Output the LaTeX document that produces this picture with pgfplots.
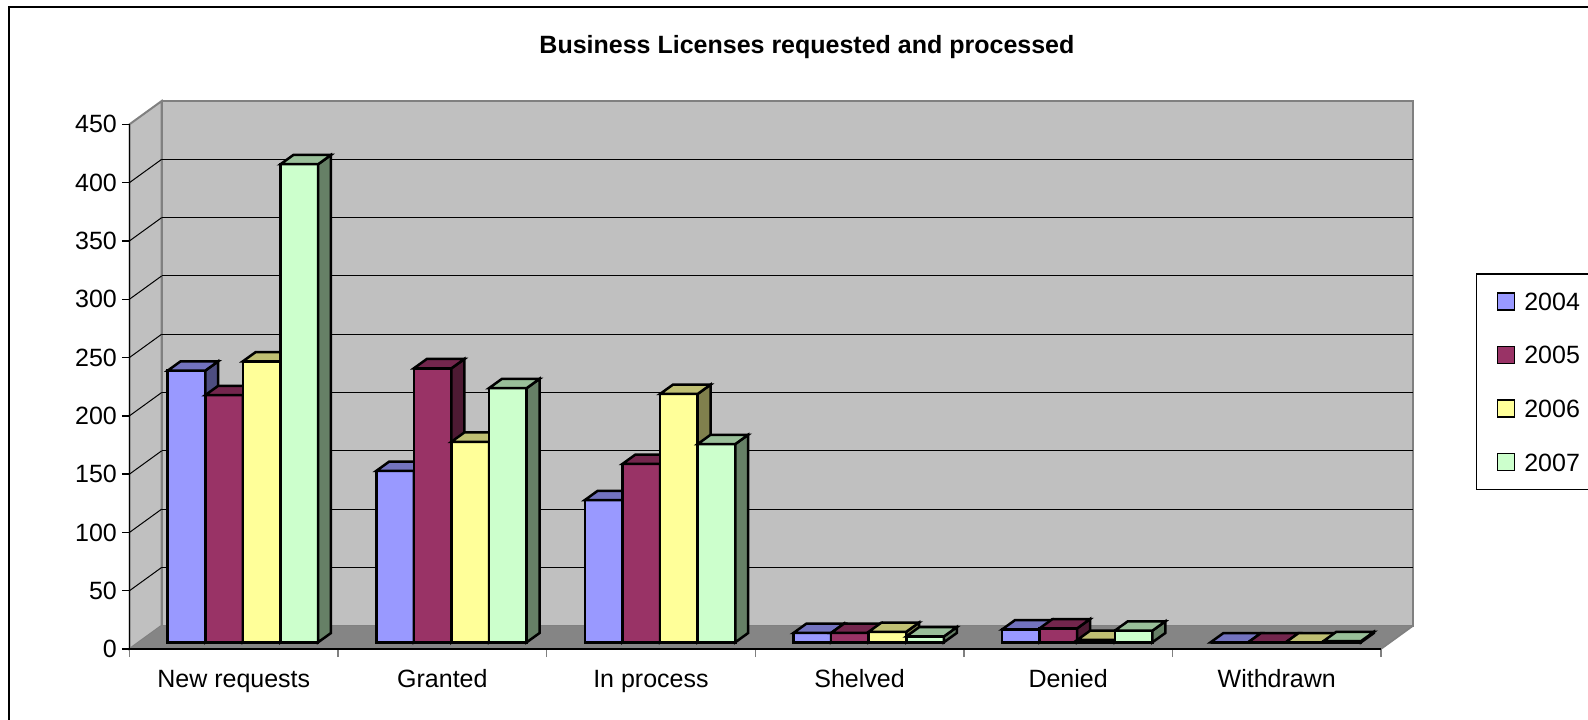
\documentclass[border=0pt]{standalone}
\usepackage{fontspec}
\setmainfont{Liberation Sans}
\usepackage{pgfplots}
\usepackage{pgfplotstable}
\pgfplotsset{compat=1.18}

\definecolor{c04}{HTML}{9999FF}\definecolor{c04t}{HTML}{7373BF}\definecolor{c04s}{HTML}{4D4D80}
\definecolor{c05}{HTML}{993366}\definecolor{c05t}{HTML}{73264D}\definecolor{c05s}{HTML}{4D1A33}
\definecolor{c06}{HTML}{FFFF99}\definecolor{c06t}{HTML}{BFBF73}\definecolor{c06s}{HTML}{80804D}
\definecolor{c07}{HTML}{CCFFCC}\definecolor{c07t}{HTML}{99BF99}\definecolor{c07s}{HTML}{668066}
\definecolor{wall}{HTML}{C0C0C0}
\definecolor{floorc}{HTML}{858585}
\definecolor{edgec}{HTML}{808080}

\pgfdeclareplotmark{void}{}

\newdimen\bH
% one 3D bar, drawn around the data point (i, value); #1 = centre shift in pt
\newcommand\barbox[4]{%
  \bH=\barval pt\relax
  \bH=0.583\bH
  \pgfscope
  \pgftransformshift{\pgfqpoint{#1pt}{3.35pt}}%
  \pgfsetlinewidth{1.25pt}\pgfsetmiterjoin\pgfsetstrokecolor{black}%
  \pgfsetfillcolor{#2}%
  \pgfpathrectanglecorners{\pgfqpoint{-9.4pt}{-\bH}}{\pgfqpoint{9.4pt}{0pt}}%
  \pgfusepath{fill,stroke}%
  \pgfsetfillcolor{#4}%
  \pgfpathmoveto{\pgfqpoint{9.4pt}{-\bH}}%
  \pgfpathlineto{\pgfqpoint{9.4pt}{0pt}}%
  \pgfpathlineto{\pgfqpoint{15.85pt}{4.65pt}}%
  \pgfpathlineto{\pgfqpoint{15.85pt}{\dimexpr4.65pt-\bH\relax}}%
  \pgfpathclose
  \pgfusepath{fill,stroke}%
  \pgfsetfillcolor{#3}%
  \pgfpathmoveto{\pgfqpoint{-9.4pt}{0pt}}%
  \pgfpathlineto{\pgfqpoint{9.4pt}{0pt}}%
  \pgfpathlineto{\pgfqpoint{15.85pt}{4.65pt}}%
  \pgfpathlineto{\pgfqpoint{-2.95pt}{4.65pt}}%
  \pgfpathclose
  \pgfusepath{fill,stroke}%
  \endpgfscope
}

\pgfplotsset{sq legend/.style={legend image code/.code={%
  \draw[##1, line width=0.8pt] (0pt,-4.25pt) rectangle (8.5pt,4.25pt);}}}

\pgfplotstableread{
x y2004 y2005 y2006 y2007
0 233 212 241 410
1 147 235 172 218
2 122 153 213 170
3 8 8 9 5
4 11 12 2 10
5 0 0 0 1
}\data

\newcommand\lab{\fontsize{12.5}{15}\selectfont}

\begin{document}
\begin{tikzpicture}
\useasboundingbox (0,0) rectangle (794pt,359.5pt);
% chart border
\draw[line width=0.8pt] (4.5pt,-5pt) -- (4.5pt,356pt) -- (800pt,356pt);
% side wall
\filldraw[fill=wall, draw=edgec, line width=1pt] (64.75pt,35pt) -- (64.75pt,297.35pt) -- (80.85pt,309pt) -- (80.85pt,46.65pt) -- cycle;
% back wall
\filldraw[fill=wall, draw=edgec, line width=1pt] (80.85pt,46.65pt) rectangle (706.6pt,309pt);
% grid lines
\foreach \v in {50,100,...,400}{
  \pgfmathsetmacro\yb{46.65+0.583*\v}
  \pgfmathsetmacro\yf{35+0.583*\v}
  \draw[black, line width=0.5pt] (80.85pt,\yb pt) -- (706.6pt,\yb pt);
  \draw[black, line width=0.5pt] (64.75pt,\yf pt) -- (80.85pt,\yb pt);
}
% floor
\fill[floorc] (64.75pt,35pt) -- (690.5pt,35pt) -- (706.6pt,46.65pt) -- (80.85pt,46.65pt) -- cycle;
\draw[edgec, line width=0.8pt] (690.5pt,35pt) -- (706.6pt,46.65pt);

\begin{axis}[
  at={(64.75pt,35pt)}, anchor=south west,
  scale only axis, width=625.75pt, height=262.35pt,
  xmin=-0.5, xmax=5.5, ymin=0, ymax=450,
  clip=false,
  axis x line*=bottom, axis y line*=left,
  axis line style={black, line width=0.7pt},
  xtick={0,...,5},
  xticklabels={New requests, Granted, In process, Shelved, Denied, Withdrawn},
  major x tick style={draw=none},
  minor xtick={-0.5,0.5,...,5.5},
  minor x tick style={edgec, line width=0.7pt},
  ytick={0,50,...,450},
  major y tick style={black, line width=0.7pt},
  tick align=outside,
  major tick length=3.8pt, minor tick length=4pt,
  /pgf/number format/assume math mode=true,
  tick label style={font=\lab},
  yticklabel style={anchor=east, inner sep=0pt, xshift=-2.3pt},
  xticklabel style={anchor=base, inner sep=0pt, yshift=-15.3pt},
  title={Business Licenses requested and processed},
  title style={at={(axis description cs:0.5413,1.1113)}, anchor=base, inner sep=0pt, font=\bfseries\lab},
  legend style={at={(axis description cs:1.0759,0.71603)}, anchor=north west,
    draw=black, line width=0.7pt, inner xsep=10pt, inner ysep=9pt,
    /tikz/row sep=17.5pt, /tikz/column sep=4.5pt,
    nodes={inner sep=0pt, text height=9pt, text depth=0pt, font=\lab}},
  legend cell align=left,
]
\addplot[scatter, only marks, mark=void, forget plot,
  visualization depends on={rawy \as \barval},
  scatter/@pre marker code/.code={\barbox{-23.65}{c04}{c04t}{c04s}},
  scatter/@post marker code/.code={}]
  table[x=x, y=y2004] {\data};
\addplot[scatter, only marks, mark=void, forget plot,
  visualization depends on={rawy \as \barval},
  scatter/@pre marker code/.code={\barbox{-4.85}{c05}{c05t}{c05s}},
  scatter/@post marker code/.code={}]
  table[x=x, y=y2005] {\data};
\addplot[scatter, only marks, mark=void, forget plot,
  visualization depends on={rawy \as \barval},
  scatter/@pre marker code/.code={\barbox{13.95}{c06}{c06t}{c06s}},
  scatter/@post marker code/.code={}]
  table[x=x, y=y2006] {\data};
\addplot[scatter, only marks, mark=void, forget plot,
  visualization depends on={rawy \as \barval},
  scatter/@pre marker code/.code={\barbox{32.75}{c07}{c07t}{c07s}},
  scatter/@post marker code/.code={}]
  table[x=x, y=y2007] {\data};
\addlegendimage{sq legend, draw=black, fill=c04}\addlegendentry{2004}
\addlegendimage{sq legend, draw=black, fill=c05}\addlegendentry{2005}
\addlegendimage{sq legend, draw=black, fill=c06}\addlegendentry{2006}
\addlegendimage{sq legend, draw=black, fill=c07}\addlegendentry{2007}
\end{axis}
\end{tikzpicture}
\end{document}
